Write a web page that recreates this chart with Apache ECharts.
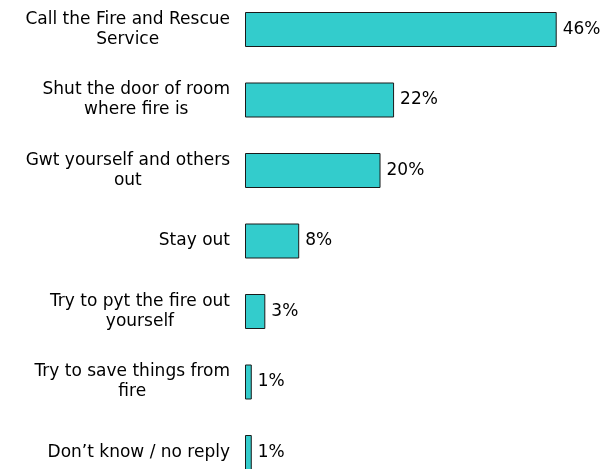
<!DOCTYPE html>
<html>
<head>
<meta charset="utf-8">
<script src="https://cdn.jsdelivr.net/npm/echarts@6/dist/echarts.min.js"></script>
<style>html,body{margin:0;padding:0;background:#fff}#c{width:607px;height:469px}</style>
</head>
<body>
<div id="c"></div>
<script>
const categories = [
  ["Call the Fire and Rescue", "Service"],
  ["Shut the door of room", "where fire is"],
  ["Gwt yourself and others", "out"],
  ["Stay out"],
  ["Try to pyt the fire out", "yourself"],
  ["Try to save things from", "fire"],
  ["Don\u2019t know / no reply"]
];
const values = [46, 22, 20, 8, 3, 1, 1];

const FONT = "DejaVu Sans";
const chart = echarts.init(document.getElementById('c'), null, {renderer: 'canvas'});
chart.setOption({
  animation: false,
  backgroundColor: '#ffffff',
  grid: {left: 245, top: -5.75, width: 338.8, height: 493.5, containLabel: false, outerBoundsMode: 'none'},
  xAxis: {
    type: 'value', min: 0, max: 50, show: false
  },
  yAxis: {
    type: 'category', inverse: true,
    data: categories.map(c => c.join('\n')),
    axisLine: {show: false}, axisTick: {show: false}, splitLine: {show: false},
    axisLabel: {
      margin: 15, align: 'right', hideOverlap: false,
      fontFamily: FONT, fontSize: 17, color: '#000', lineHeight: 20,
      formatter: v => v.split('\n').map(l => '{c|' + l + '}').join('\n'),
      rich: {c: {align: 'center', fontFamily: FONT, fontSize: 17, color: '#000', lineHeight: 20}}
    }
  },
  series: [{
    type: 'bar',
    data: values,
    barWidth: 35,
    itemStyle: {color: '#33CCCC', borderColor: '#1a1a1a', borderWidth: 1},
    label: {
      show: true, position: 'right', distance: 6,
      formatter: '{c}%', fontFamily: FONT, fontSize: 17, color: '#000'
    }
  }]
});
</script>
</body>
</html>
